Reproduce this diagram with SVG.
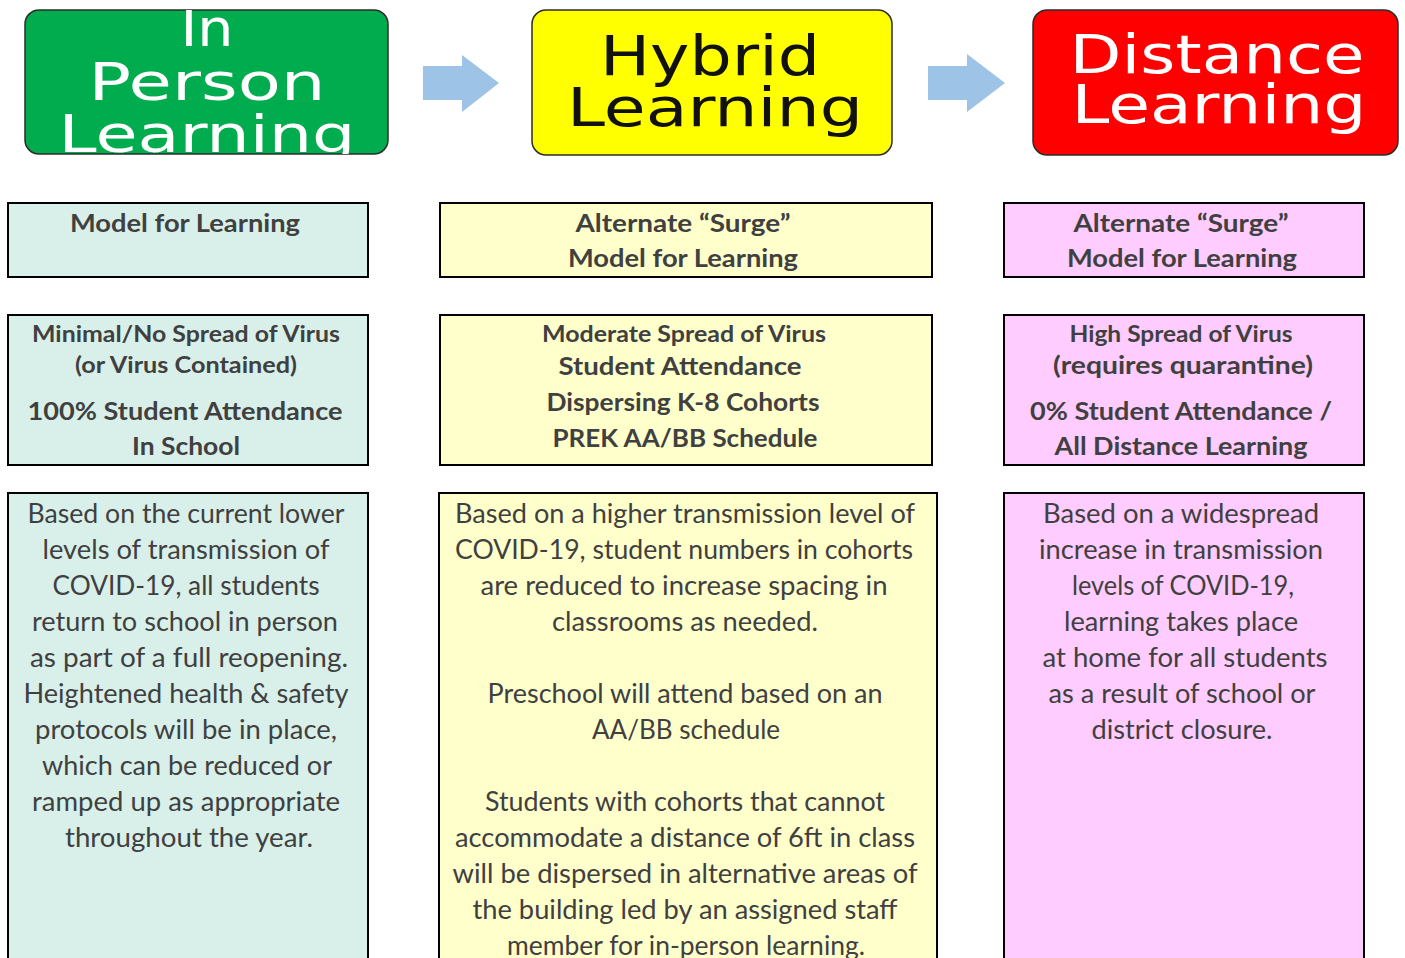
<svg xmlns="http://www.w3.org/2000/svg" width="1405" height="958" viewBox="0 0 1405 958">
<style>
.hdr{stroke:#2b2b2b;stroke-width:1.5}
.htxt{font-family:"DejaVu Sans","Liberation Sans",sans-serif;text-anchor:middle}
.box{stroke:#000;stroke-width:2}
.teal{fill:#D9F0EA}
.yel{fill:#FFFFCC}
.pink{fill:#FFCCFF}
.b{font-family:Lato,"Open Sans",sans-serif;font-weight:bold;fill:#404040;text-anchor:middle}
.r{font-family:Lato,"Open Sans",sans-serif;fill:#404040;text-anchor:middle;font-size:26px}
.arrow{fill:#9DC3E6}
</style>
<defs>
<clipPath id="cg"><rect x="25" y="10" width="363" height="144" rx="14"/></clipPath>
<clipPath id="cy"><rect x="532" y="10" width="360" height="145" rx="14"/></clipPath>
<clipPath id="cr"><rect x="1033" y="10" width="365" height="145" rx="14"/></clipPath>
</defs>
<rect width="1405" height="958" fill="#fff"/>

<g id="head-inperson">
<rect class="hdr" x="25" y="10" width="363" height="144" rx="14" fill="#00AC4E"/>
<g clip-path="url(#cg)">
<text class="htxt" x="207" y="46" font-size="52" fill="#fff" textLength="53" lengthAdjust="spacingAndGlyphs">In</text>
<text class="htxt" x="207" y="100" font-size="52" fill="#fff" textLength="237" lengthAdjust="spacingAndGlyphs">Person</text>
<text class="htxt" x="207" y="152" font-size="52" fill="#fff" textLength="297" lengthAdjust="spacingAndGlyphs">Learning</text>
</g>
</g>

<g id="head-hybrid">
<rect class="hdr" x="532" y="10" width="360" height="145" rx="14" fill="#FFFF00"/>
<g clip-path="url(#cy)">
<text class="htxt" x="710" y="75" font-size="56" fill="#111" textLength="220" lengthAdjust="spacingAndGlyphs">Hybrid</text>
<text class="htxt" x="715" y="126" font-size="54" fill="#111" textLength="296" lengthAdjust="spacingAndGlyphs">Learning</text>
</g>
</g>

<g id="head-distance">
<rect class="hdr" x="1033" y="10" width="365" height="145" rx="14" fill="#FF0000"/>
<g clip-path="url(#cr)">
<text class="htxt" x="1217" y="73" font-size="54" fill="#fff" textLength="295" lengthAdjust="spacingAndGlyphs">Distance</text>
<text class="htxt" x="1219" y="123" font-size="54" fill="#fff" textLength="295" lengthAdjust="spacingAndGlyphs">Learning</text>
</g>
</g>

<g id="connectors">
<polygon class="arrow" points="423,66 462,66 462,55 499,83 462,112 462,100 423,100"/>
<polygon class="arrow" points="928,66 967,66 967,54 1005,83 967,112 967,100 928,100"/>
</g>

<g id="model-inperson">
<rect class="box teal" x="8" y="203" width="360" height="74"/>
<text class="b" x="185" y="232" font-size="25" textLength="230" lengthAdjust="spacingAndGlyphs">Model for Learning</text>
</g>
<g id="model-hybrid">
<rect class="box yel" x="440" y="203" width="492" height="74"/>
<text class="b" x="683" y="232" font-size="25" textLength="215" lengthAdjust="spacingAndGlyphs">Alternate “Surge”</text>
<text class="b" x="683" y="267" font-size="25" textLength="230" lengthAdjust="spacingAndGlyphs">Model for Learning</text>
</g>
<g id="model-distance">
<rect class="box pink" x="1004" y="203" width="360" height="74"/>
<text class="b" x="1181" y="232" font-size="25" textLength="215" lengthAdjust="spacingAndGlyphs">Alternate “Surge”</text>
<text class="b" x="1182" y="267" font-size="25" textLength="230" lengthAdjust="spacingAndGlyphs">Model for Learning</text>
</g>

<g id="spread-inperson">
<rect class="box teal" x="8" y="315" width="360" height="150"/>
<text class="b" x="186" y="342" font-size="23" textLength="308" lengthAdjust="spacingAndGlyphs">Minimal/No Spread of Virus</text>
<text class="b" x="186" y="373" font-size="23" textLength="222" lengthAdjust="spacingAndGlyphs">(or Virus Contained)</text>
<text class="b" x="185" y="420" font-size="25" textLength="315" lengthAdjust="spacingAndGlyphs">100% Student Attendance</text>
<text class="b" x="186" y="455" font-size="25" textLength="108" lengthAdjust="spacingAndGlyphs">In School</text>
</g>
<g id="spread-hybrid">
<rect class="box yel" x="440" y="315" width="492" height="150"/>
<text class="b" x="684" y="342" font-size="23" textLength="284" lengthAdjust="spacingAndGlyphs">Moderate Spread of Virus</text>
<text class="b" x="680" y="375" font-size="25" textLength="243" lengthAdjust="spacingAndGlyphs">Student Attendance</text>
<text class="b" x="683" y="411" font-size="25" textLength="273" lengthAdjust="spacingAndGlyphs">Dispersing K-8 Cohorts</text>
<text class="b" x="685" y="447" font-size="25" textLength="265" lengthAdjust="spacingAndGlyphs">PREK AA/BB Schedule</text>
</g>
<g id="spread-distance">
<rect class="box pink" x="1004" y="315" width="360" height="150"/>
<text class="b" x="1181" y="342" font-size="23" textLength="223" lengthAdjust="spacingAndGlyphs">High Spread of Virus</text>
<text class="b" x="1183" y="374" font-size="25" textLength="260" lengthAdjust="spacingAndGlyphs">(requires quarantine)</text>
<text class="b" x="1181" y="420" font-size="25" textLength="302" lengthAdjust="spacingAndGlyphs">0% Student Attendance /</text>
<text class="b" x="1181" y="455" font-size="25" textLength="253" lengthAdjust="spacingAndGlyphs">All Distance Learning</text>
</g>

<g id="desc-inperson">
<rect class="box teal" x="8" y="493" width="360" height="480"/>
<text class="r" x="186" y="523" textLength="317" lengthAdjust="spacingAndGlyphs">Based on the current lower</text>
<text class="r" x="186" y="559" textLength="287" lengthAdjust="spacingAndGlyphs">levels of transmission of</text>
<text class="r" x="186" y="595" textLength="267" lengthAdjust="spacingAndGlyphs">COVID-19, all students</text>
<text class="r" x="185" y="631" textLength="306" lengthAdjust="spacingAndGlyphs">return to school in person</text>
<text class="r" x="189" y="667" textLength="318" lengthAdjust="spacingAndGlyphs">as part of a full reopening.</text>
<text class="r" x="186" y="703" textLength="325" lengthAdjust="spacingAndGlyphs">Heightened health &amp; safety</text>
<text class="r" x="186" y="739" textLength="302" lengthAdjust="spacingAndGlyphs">protocols will be in place,</text>
<text class="r" x="187" y="775" textLength="290" lengthAdjust="spacingAndGlyphs">which can be reduced or</text>
<text class="r" x="186" y="811" textLength="308" lengthAdjust="spacingAndGlyphs">ramped up as appropriate</text>
<text class="r" x="189" y="847" textLength="248" lengthAdjust="spacingAndGlyphs">throughout the year.</text>
</g>
<g id="desc-hybrid">
<rect class="box yel" x="439" y="493" width="498" height="480"/>
<text class="r" x="685" y="523" textLength="460" lengthAdjust="spacingAndGlyphs">Based on a higher transmission level of</text>
<text class="r" x="684" y="559" textLength="458" lengthAdjust="spacingAndGlyphs">COVID-19, student numbers in cohorts</text>
<text class="r" x="684" y="595" textLength="407" lengthAdjust="spacingAndGlyphs">are reduced to increase spacing in</text>
<text class="r" x="685" y="631" textLength="266" lengthAdjust="spacingAndGlyphs">classrooms as needed.</text>
<text class="r" x="685" y="703" textLength="395" lengthAdjust="spacingAndGlyphs">Preschool will attend based on an</text>
<text class="r" x="686" y="739" textLength="188" lengthAdjust="spacingAndGlyphs">AA/BB schedule</text>
<text class="r" x="685" y="811" textLength="400" lengthAdjust="spacingAndGlyphs">Students with cohorts that cannot</text>
<text class="r" x="685" y="847" textLength="460" lengthAdjust="spacingAndGlyphs">accommodate a distance of 6ft in class</text>
<text class="r" x="685" y="883" textLength="465" lengthAdjust="spacingAndGlyphs">will be dispersed in alternative areas of</text>
<text class="r" x="685" y="919" textLength="425" lengthAdjust="spacingAndGlyphs">the building led by an assigned staff</text>
<text class="r" x="686" y="955" textLength="358" lengthAdjust="spacingAndGlyphs">member for in-person learning.</text>
</g>
<g id="desc-distance">
<rect class="box pink" x="1004" y="493" width="360" height="480"/>
<text class="r" x="1181" y="523" textLength="276" lengthAdjust="spacingAndGlyphs">Based on a widespread</text>
<text class="r" x="1181" y="559" textLength="284" lengthAdjust="spacingAndGlyphs">increase in transmission</text>
<text class="r" x="1183" y="595" textLength="222" lengthAdjust="spacingAndGlyphs">levels of COVID-19,</text>
<text class="r" x="1181" y="631" textLength="234" lengthAdjust="spacingAndGlyphs">learning takes place</text>
<text class="r" x="1185" y="667" textLength="285" lengthAdjust="spacingAndGlyphs">at home for all students</text>
<text class="r" x="1182" y="703" textLength="267" lengthAdjust="spacingAndGlyphs">as a result of school or</text>
<text class="r" x="1182" y="739" textLength="181" lengthAdjust="spacingAndGlyphs">district closure.</text>
</g>
</svg>
